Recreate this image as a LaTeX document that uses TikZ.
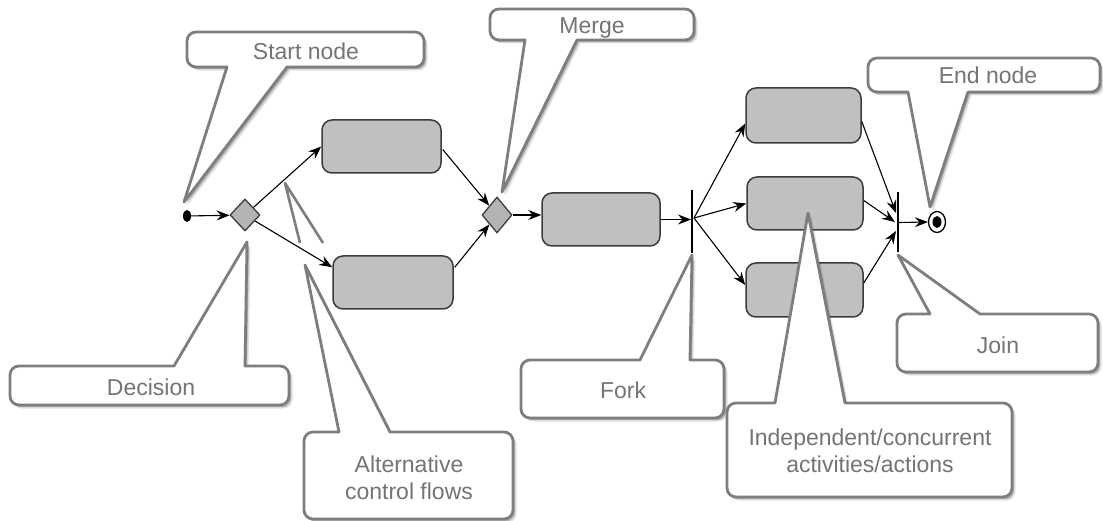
\documentclass[tikz,border=0pt]{standalone}
\usepackage{fontspec}
\setmainfont{Liberation Sans}
\usetikzlibrary{arrows.meta,shapes.geometric,shadows,calc}
\definecolor{cline}{HTML}{7E7E7E}
\definecolor{ctext}{HTML}{747474}
\definecolor{actfill}{HTML}{C0C0C0}
\definecolor{actdraw}{HTML}{3C3C3C}
% callout with pointer on the bottom edge: x1 y1 x2 y2 bx1 bx2 tx ty
\newcommand{\CallB}[8]{%
  \path[callout] (#1+9,#2) -- (#3-9,#2) .. controls (#3-4,#2) and (#3,#2+4) .. (#3,#2+9)
    -- (#3,#4-9) .. controls (#3,#4-4) and (#3-4,#4) .. (#3-9,#4) -- (#6,#4) -- (#7,#8) -- (#5,#4)
    -- (#1+9,#4) .. controls (#1+4,#4) and (#1,#4-4) .. (#1,#4-9) -- (#1,#2+9)
    .. controls (#1,#2+4) and (#1+4,#2) .. (#1+9,#2) -- cycle;}
% callout with pointer on the top edge: x1 y1 x2 y2 bx1 bx2 tx ty
\newcommand{\CallT}[8]{%
  \path[callout] (#1+9,#2) -- (#5,#2) -- (#7,#8) -- (#6,#2) -- (#3-9,#2)
    .. controls (#3-4,#2) and (#3,#2+4) .. (#3,#2+9)
    -- (#3,#4-9) .. controls (#3,#4-4) and (#3-4,#4) .. (#3-9,#4)
    -- (#1+9,#4) .. controls (#1+4,#4) and (#1,#4-4) .. (#1,#4-9) -- (#1,#2+9)
    .. controls (#1,#2+4) and (#1+4,#2) .. (#1+9,#2) -- cycle;}
\begin{document}
\begin{tikzpicture}[x=1pt,y=-1pt,
  action/.style={draw=actdraw, fill=actfill, line width=1.5pt, rounded corners=10pt, inner sep=0pt},
  decis/.style={diamond, draw=actdraw, fill=actfill!94!black, line width=1.3pt, inner sep=0pt, line join=round},
  bar/.style={fill=black, draw=none, inner sep=0pt, minimum width=1.6pt},
  flow/.style={draw=black, line width=1.1pt, -{Stealth[length=13pt,width=10pt,inset=4.5pt]}},
  callout/.style={draw=cline, fill=white, line width=2.8pt, line join=round,
    drop shadow={shadow xshift=3.5pt, shadow yshift=-3.5pt, opacity=0.12, fill=black},
    drop shadow={shadow xshift=2pt, shadow yshift=-2.2pt, opacity=0.22, fill=black}},
  lbl/.style={text=ctext, font=\fontsize{23}{26.5}\selectfont, align=center, inner sep=0pt}]

\useasboundingbox[fill=white] (0,0) rectangle (1103,521);

% ---- diagram nodes ----
\node[ellipse, fill=black, minimum width=8pt, minimum height=12pt, inner sep=0pt] (start) at (187,216) {};
\node[decis, minimum width=30pt, minimum height=32pt] (dec) at (245,215) {};
\node[action, minimum width=119pt, minimum height=53pt] (a1) at (381.5,146.5) {};
\node[action, minimum width=120pt, minimum height=53pt] (a2) at (393,282.5) {};
\node[decis, minimum width=30pt, minimum height=36pt] (mer) at (497,215) {};
\node[action, minimum width=118pt, minimum height=53pt] (a3) at (601,219.5) {};
\node[bar, minimum height=63pt] (fork) at (692,221.5) {};
\node[action, minimum width=115pt, minimum height=55pt] (a4) at (803.5,115.5) {};
\node[action, minimum width=116pt, minimum height=53pt] (a5) at (805,203.5) {};
\node[action, minimum width=117pt, minimum height=54pt] (a6) at (804.5,290) {};
\node[bar, minimum height=60pt] (join) at (898,222.5) {};
\node[ellipse, draw=black, line width=1.3pt, minimum width=17pt, minimum height=21pt, inner sep=0pt] (endn) at (937,222) {};
\node[ellipse, fill=black, minimum width=9pt, minimum height=12pt, inner sep=0pt] (endin) at (endn.center) {};

\coordinate (fk) at (694,218);
\coordinate (jn1) at (896,213);
\coordinate (jn2) at (895,222);
\coordinate (jn3) at (896,231);

% ---- connectors ----
\draw[flow] (start) -- (dec);
\draw[flow] (dec) -- (a1.west);
\draw[flow] (dec) -- ($(a2.north west)+(0,12)$);
\draw[flow] ($(a1.east)+(1,3)$) -- (mer);
\draw[flow] ($(a2.north east)+(1,12)$) -- (mer);
\draw[flow] (mer) -- (mer -| a3.west);
\draw[flow] (a3.east) -- (a3.east -| fork.west);
\draw[flow] (fk) -- ($(a4.west)+(0,8)$);
\draw[flow] (fk) -- (a5.west);
\draw[flow] (fk) -- ($(a6.west)+(0,-5)$);
\draw[flow] ($(a4.east)+(0,6)$) -- (jn1);
\draw[flow] ($(a5.east)+(0,-3)$) -- (jn2);
\draw[flow] ($(a6.east)+(0,-7)$) -- (jn3);
\draw[flow] (join.center -| join.east) -- (endn.west);

% ---- callouts ----
\CallB{187}{32}{424}{67}{227}{287}{184}{202}
\CallB{490}{9}{694}{40}{525}{577}{502}{192}
\CallB{868}{58}{1100}{92}{908}{968}{930}{207}
\CallT{897}{314}{1098}{372}{930}{980}{898}{255}
\CallT{10}{366}{289}{405}{174}{245}{247}{242}
\draw[cline, line width=2.6pt, line join=round] (300,243) -- (285,183) -- (323,243);
\CallT{304}{432}{513}{519}{339}{390}{305}{265}
\CallT{521}{360}{724}{418}{640}{690}{692}{255}
\CallT{727}{403}{1012}{497}{775}{845}{808}{213}

% ---- labels ----
\node[lbl, anchor=base] (tStart) at (306,60) {Start node};
\node[lbl, anchor=base] (tMerge) at (592,34) {Merge};
\node[lbl, anchor=base] (tEnd) at (988,84) {End node};
\node[lbl, anchor=base] (tJoin) at (998,353) {Join};
\node[lbl, anchor=base] (tDec) at (151,395) {Decision};
\node[lbl] (tAlt) at (409,478) {Alternative\\control flows};
\node[lbl, anchor=base] (tFork) at (623,398) {Fork};
\node[lbl] (tInd) at (870,451) {Independent/concurrent\\activities/actions};
\end{tikzpicture}
\end{document}
